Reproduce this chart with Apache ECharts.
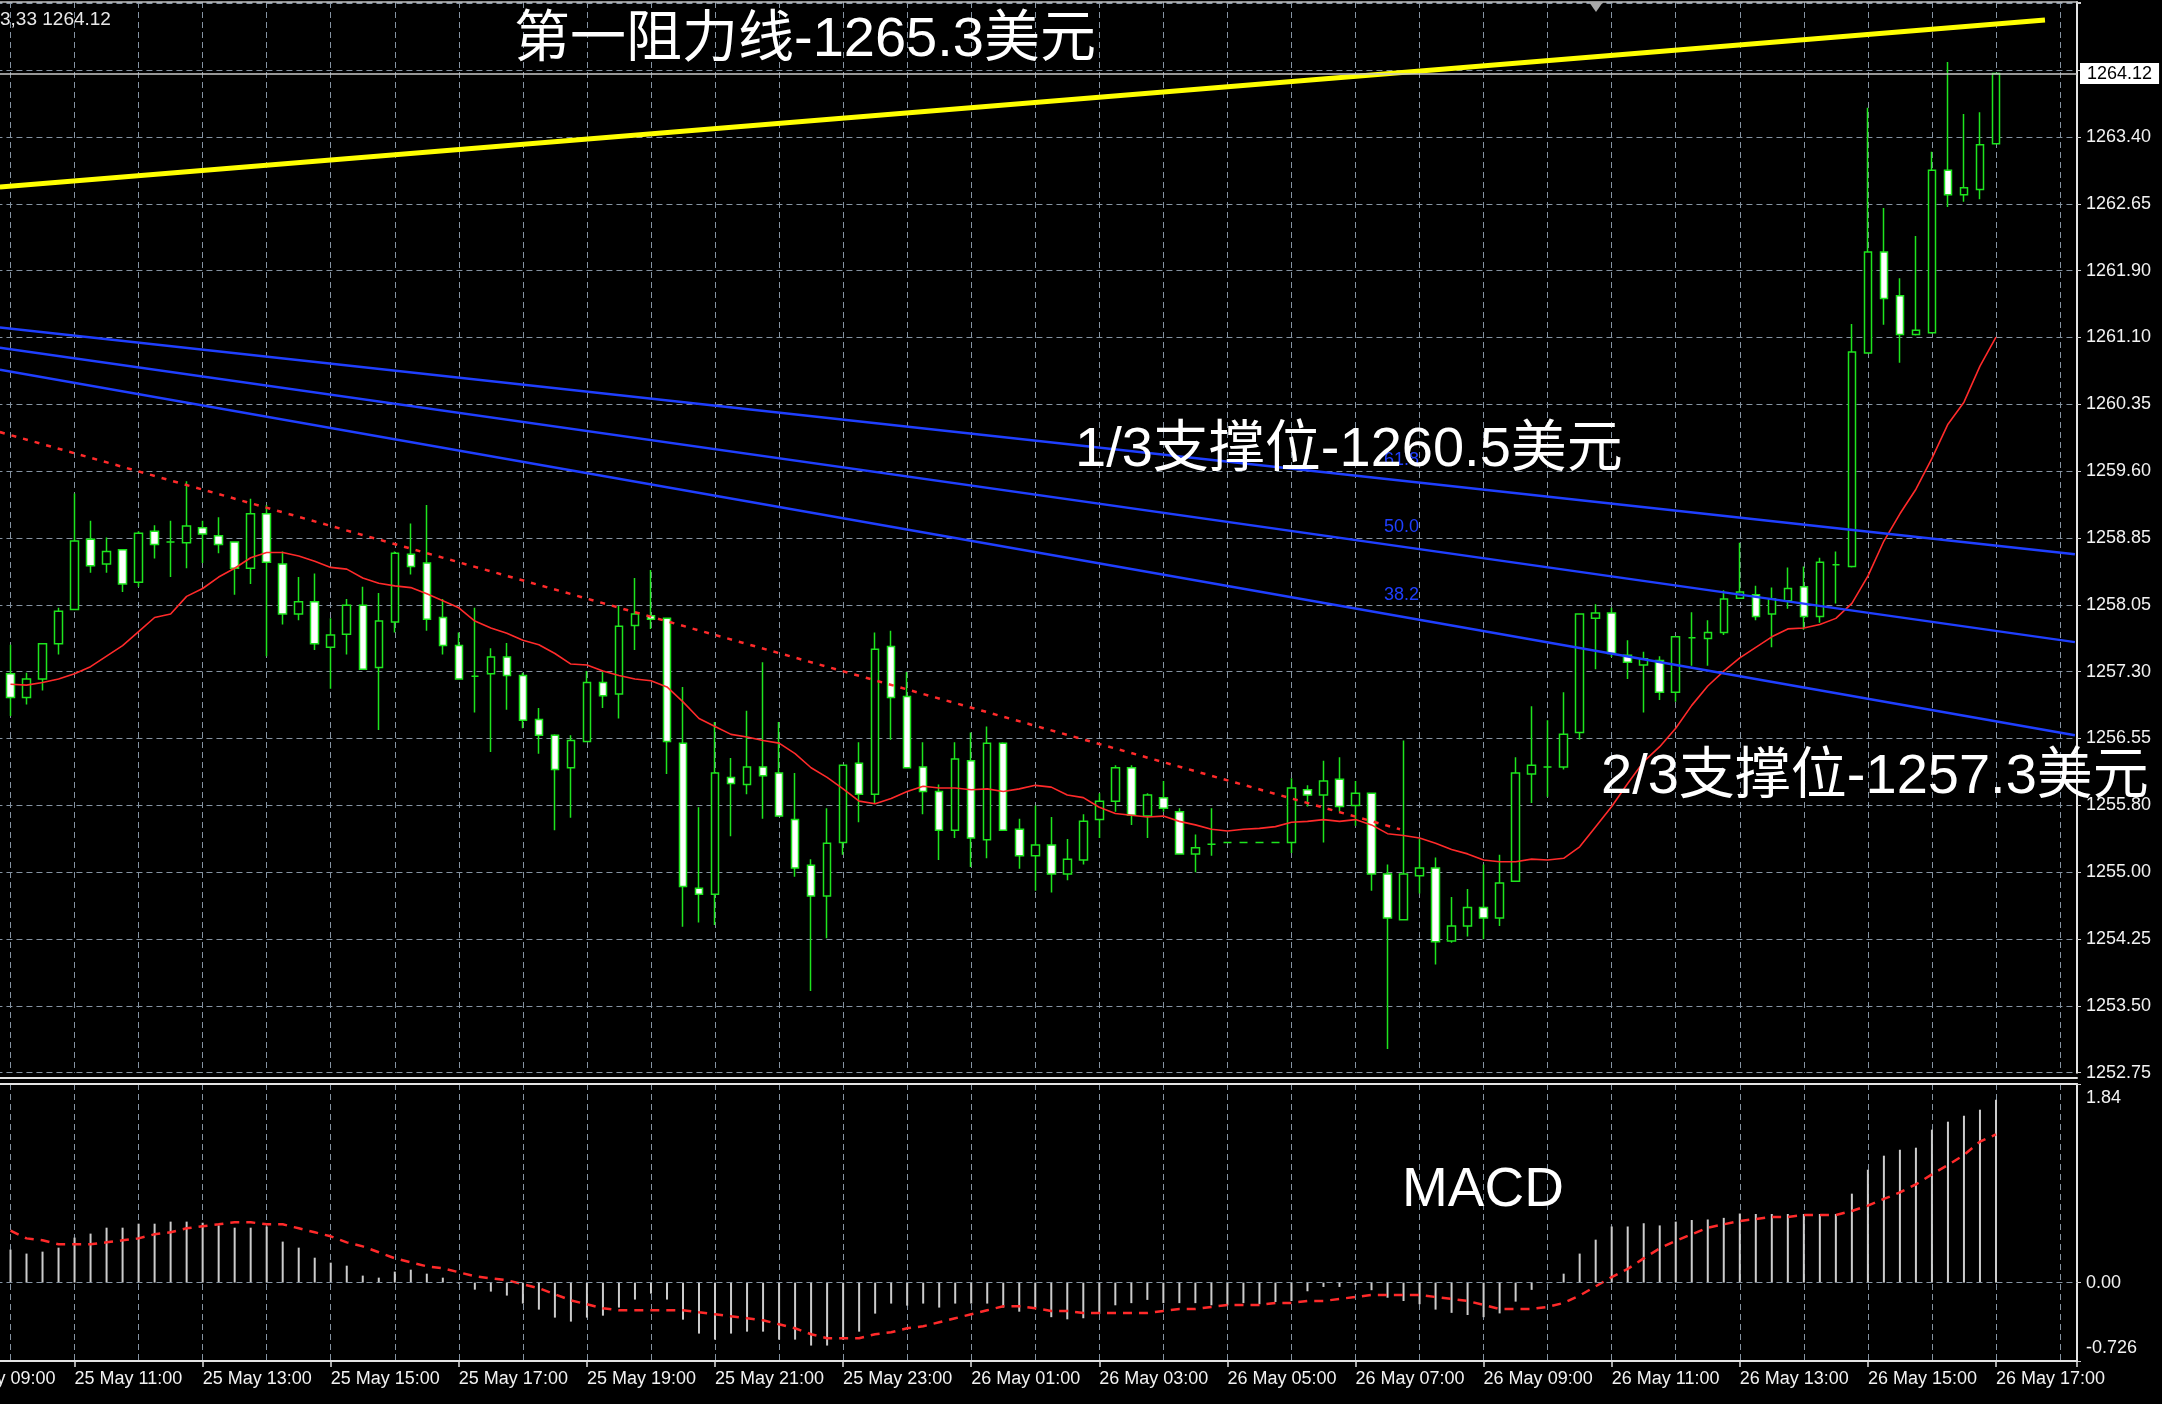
<!DOCTYPE html>
<html>
<head>
<meta charset="utf-8">
<script src="https://cdn.jsdelivr.net/npm/echarts@6/dist/echarts.min.js"></script>
<style>
html,body{margin:0;padding:0;background:#000;}
#chart{width:2162px;height:1404px;}
</style>
</head>
<body>
<div id="chart"></div>
<script>
// ---------- DATA ----------
// 15-minute bars from 25 May 10:00 (index 0) to 26 May 17:00 (index 124)
// time-axis labels every 8 bars, starting at index -4 (25 May 09:00)
const timeLabels = ['25 May 09:00','25 May 11:00','25 May 13:00','25 May 15:00','25 May 17:00','25 May 19:00',
  '25 May 21:00','25 May 23:00','26 May 01:00','26 May 03:00','26 May 05:00','26 May 07:00','26 May 09:00',
  '26 May 11:00','26 May 13:00','26 May 15:00','26 May 17:00'];

const priceTickLabels = ['1252.75','1253.50','1254.25','1255.00','1255.80','1256.55','1257.30','1258.05',
  '1258.85','1259.60','1260.35','1261.10','1261.90','1262.65','1263.40'];

const macdTickValues = [-0.726, 0, 1.84];
const macdTickLabels = ['-0.726', '0.00', '1.84'];

// [open, close, low, high]
const candles = [
[1257.29,1257.02,1256.81,1257.62],[1257.02,1257.23,1256.94,1257.30],[1257.23,1257.63,1257.10,1257.63],
[1257.63,1258.00,1257.51,1258.04],[1258.02,1258.80,1258.02,1259.34],[1258.82,1258.52,1258.44,1259.03],
[1258.54,1258.68,1258.44,1258.84],[1258.70,1258.31,1258.22,1258.70],[1258.33,1258.89,1258.28,1258.91],
[1258.91,1258.76,1258.60,1258.98],[1258.79,1258.79,1258.39,1259.03],[1258.78,1258.97,1258.49,1259.48],
[1258.95,1258.88,1258.55,1259.03],[1258.86,1258.76,1258.66,1259.07],[1258.79,1258.49,1258.19,1258.79],
[1258.49,1259.11,1258.31,1259.28],[1259.11,1258.56,1257.49,1259.21],[1258.54,1257.97,1257.85,1258.68],
[1257.97,1258.11,1257.90,1258.39],[1258.11,1257.63,1257.56,1258.43],[1257.59,1257.73,1257.12,1257.92],
[1257.74,1258.07,1257.51,1258.14],[1258.07,1257.34,1257.34,1258.28],[1257.36,1257.89,1256.65,1258.21],
[1257.88,1258.66,1257.76,1258.68],[1258.65,1258.51,1258.42,1259.00],[1258.55,1257.91,1257.78,1259.21],
[1257.93,1257.61,1257.51,1258.14],[1257.61,1257.23,1257.23,1257.76],[1257.26,1257.26,1256.85,1258.04],
[1257.29,1257.48,1256.40,1257.58],[1257.48,1257.27,1256.88,1257.64],[1257.27,1256.76,1256.67,1257.30],
[1256.77,1256.59,1256.38,1256.90],[1256.59,1256.20,1255.51,1256.60],[1256.22,1256.53,1255.65,1256.59],
[1256.52,1257.19,1256.52,1257.32],[1257.19,1257.04,1256.90,1257.31],[1257.06,1257.83,1256.78,1258.06],
[1257.84,1257.97,1257.56,1258.38],[1257.95,1257.91,1257.80,1258.47],[1257.92,1256.52,1256.15,1257.93],
[1256.50,1254.87,1254.41,1257.14],[1254.85,1254.78,1254.46,1255.77],[1254.78,1256.16,1254.43,1256.74],
[1256.11,1256.04,1255.44,1256.33],[1256.03,1256.23,1255.92,1256.87],[1256.23,1256.13,1255.64,1257.42],
[1256.16,1255.67,1255.67,1256.74],[1255.63,1255.08,1254.98,1256.16],[1255.11,1254.76,1253.68,1255.18],
[1254.76,1255.36,1254.28,1255.76],[1255.37,1256.25,1255.23,1256.25],[1256.27,1255.92,1255.60,1256.51],
[1255.92,1257.57,1255.81,1257.76],[1257.60,1257.02,1256.54,1257.78],[1257.03,1256.22,1256.22,1257.31],
[1256.23,1255.95,1255.69,1256.51],[1255.95,1255.51,1255.17,1256.03],[1255.51,1256.32,1255.42,1256.51],
[1256.30,1255.42,1255.09,1256.62],[1255.40,1256.50,1255.19,1256.69],[1256.50,1255.51,1255.50,1256.51],
[1255.52,1255.22,1255.07,1255.64],[1255.22,1255.34,1254.82,1255.79],[1255.34,1255.01,1254.80,1255.66],
[1255.01,1255.18,1254.94,1255.41],[1255.17,1255.61,1255.12,1255.69],[1255.63,1255.84,1255.42,1255.93],
[1255.84,1256.22,1255.72,1256.25],[1256.22,1255.68,1255.57,1256.25],[1255.67,1255.91,1255.42,1255.93],
[1255.88,1255.76,1255.72,1256.07],[1255.72,1255.24,1255.24,1255.76],[1255.24,1255.31,1255.03,1255.46],
[1255.35,1255.35,1255.22,1255.76],[1255.37,1255.37,1255.37,1255.37],[1255.37,1255.37,1255.37,1255.37],
[1255.37,1255.37,1255.37,1255.37],[1255.37,1255.37,1255.37,1255.37],[1255.37,1255.99,1255.25,1256.10],
[1255.97,1255.91,1255.78,1256.02],[1255.91,1256.07,1255.37,1256.30],[1256.09,1255.78,1255.72,1256.34],
[1255.79,1255.93,1255.56,1256.07],[1255.93,1255.01,1254.82,1255.93],[1255.01,1254.51,1253.02,1255.12],
[1254.49,1255.01,1254.49,1256.53],[1254.99,1255.08,1254.79,1255.41],[1255.08,1254.24,1253.98,1255.20],
[1254.25,1254.42,1254.23,1254.75],[1254.42,1254.63,1254.30,1254.84],[1254.63,1254.51,1254.27,1255.12],
[1254.51,1254.91,1254.42,1255.23],[1254.93,1256.16,1254.93,1256.34],[1256.15,1256.25,1255.82,1256.92],
[1256.23,1256.23,1255.89,1256.76],[1256.23,1256.60,1256.20,1257.08],[1256.62,1257.97,1256.54,1257.97],
[1257.92,1257.98,1257.34,1258.08],[1257.98,1257.52,1257.48,1258.04],[1257.50,1257.42,1257.23,1257.67],
[1257.39,1257.46,1256.85,1257.54],[1257.44,1257.08,1256.99,1257.49],[1257.08,1257.71,1256.97,1257.71],
[1257.70,1257.70,1257.38,1257.99],[1257.69,1257.76,1257.38,1257.90],[1257.76,1258.14,1257.73,1258.24],
[1258.15,1258.22,1258.14,1258.78],[1258.19,1257.94,1257.90,1258.29],[1257.97,1258.14,1257.59,1258.27],
[1258.12,1258.26,1258.03,1258.50],[1258.28,1257.94,1257.79,1258.51],[1257.94,1258.56,1257.87,1258.61],
[1258.53,1258.53,1258.09,1258.68],[1258.51,1260.95,1258.50,1261.27],[1260.94,1262.09,1260.93,1263.73],
[1262.09,1261.56,1261.26,1262.59],[1261.59,1261.15,1260.83,1261.79],[1261.15,1261.20,1261.14,1262.27],
[1261.17,1263.02,1261.16,1263.23],[1263.02,1262.74,1262.60,1264.25],[1262.74,1262.82,1262.66,1263.66],
[1262.80,1263.31,1262.69,1263.68],[1263.32,1264.12,1263.32,1264.12]
];

// moving average (red solid line), one value per bar
const ma = [
1257.17,1257.16,1257.19,1257.23,1257.29,1257.37,1257.49,1257.61,1257.77,1257.93,
1257.97,1258.17,1258.26,1258.39,1258.49,1258.61,1258.67,1258.67,1258.63,1258.57,
1258.50,1258.48,1258.38,1258.32,1258.29,1258.27,1258.20,1258.12,1258.04,1257.89,
1257.81,1257.75,1257.67,1257.62,1257.52,1257.40,1257.39,1257.32,1257.27,1257.23,
1257.21,1257.14,1256.97,1256.78,1256.69,1256.60,1256.57,1256.53,1256.50,1256.38,
1256.22,1256.11,1255.98,1255.84,1255.81,1255.87,1255.95,1256.01,1255.99,1255.99,
1255.97,1255.98,1255.95,1255.98,1256.02,1256.00,1255.91,1255.88,1255.77,1255.70,
1255.68,1255.66,1255.67,1255.61,1255.57,1255.52,1255.50,1255.52,1255.53,1255.55,
1255.60,1255.61,1255.63,1255.61,1255.63,1255.57,1255.47,1255.45,1255.42,1255.36,
1255.29,1255.24,1255.17,1255.15,1255.15,1255.18,1255.17,1255.19,1255.32,1255.55,
1255.78,1256.04,1256.29,1256.46,1256.67,1256.93,1257.15,1257.32,1257.47,1257.59,
1257.71,1257.80,1257.81,1257.85,1257.92,1258.09,1258.40,1258.80,1259.11,1259.39,
1259.74,1260.13,1260.38,1260.79,1261.12
];

// MACD histogram (main) and signal line
const macdHist = [
0.306,0.269,0.287,0.324,0.417,0.454,0.509,0.509,0.546,0.546,
0.565,0.565,0.555,0.530,0.509,0.509,0.520,0.380,0.324,0.231,
0.185,0.157,0.065,0.046,0.102,0.120,0.083,0.046,-0.010,-0.065,
-0.083,-0.120,-0.194,-0.250,-0.324,-0.361,-0.324,-0.306,-0.231,-0.157,
-0.102,-0.157,-0.343,-0.472,-0.528,-0.472,-0.454,-0.454,-0.528,-0.528,
-0.583,-0.583,-0.528,-0.454,-0.287,-0.194,-0.213,-0.194,-0.231,-0.194,
-0.194,-0.194,-0.231,-0.269,-0.231,-0.320,-0.340,-0.330,-0.290,-0.210,
-0.190,-0.160,-0.190,-0.190,-0.190,-0.210,-0.210,-0.190,-0.200,-0.180,
-0.170,-0.080,-0.040,-0.040,-0.020,-0.070,-0.140,-0.170,-0.200,-0.250,
-0.280,-0.300,-0.320,-0.285,-0.176,-0.067,-0.005,0.083,0.269,0.398,
0.520,0.520,0.550,0.530,0.565,0.580,0.585,0.600,0.640,0.636,
0.636,0.636,0.636,0.636,0.636,0.824,1.046,1.176,1.231,1.250,
1.417,1.491,1.546,1.602,1.694
];
const macdSignal = [
0.481,0.410,0.392,0.355,0.355,0.355,0.373,0.392,0.410,0.448,
0.466,0.503,0.522,0.540,0.559,0.559,0.540,0.540,0.503,0.466,
0.429,0.373,0.336,0.281,0.225,0.188,0.151,0.133,0.096,0.059,
0.040,0.022,-0.015,-0.052,-0.108,-0.164,-0.201,-0.238,-0.256,-0.256,
-0.256,-0.256,-0.256,-0.275,-0.293,-0.312,-0.330,-0.349,-0.386,-0.423,
-0.478,-0.515,-0.515,-0.515,-0.478,-0.460,-0.423,-0.404,-0.367,-0.330,
-0.293,-0.256,-0.219,-0.219,-0.238,-0.262,-0.262,-0.281,-0.281,-0.281,
-0.281,-0.281,-0.262,-0.244,-0.244,-0.225,-0.207,-0.207,-0.207,-0.188,
-0.188,-0.170,-0.170,-0.151,-0.133,-0.114,-0.114,-0.114,-0.114,-0.133,
-0.151,-0.170,-0.207,-0.244,-0.244,-0.244,-0.225,-0.188,-0.120,-0.034,
0.052,0.127,0.225,0.318,0.386,0.448,0.509,0.540,0.571,0.590,
0.608,0.608,0.627,0.627,0.627,0.664,0.713,0.775,0.836,0.910,
1.003,1.090,1.182,1.306,1.373
];

// drawn objects: [barIndex, price] end points
const resistanceLine = [[-0.66, 1262.83], [127.06, 1264.73]];
const fanLine618 = [[-0.66, 1261.23], [128.93, 1258.65]];
const fanLine500 = [[-0.66, 1261.00], [128.93, 1257.65]];
const fanLine382 = [[-0.66, 1260.75], [128.93, 1256.59]];
const downTrendLine = [[-0.66, 1260.04], [86.78, 1255.52]];
const lastPrice = 1264.12;
const headerText = '3,33 1264.12';
const annotations = ['第一阻力线-1265.3美元', '1/3支撑位-1260.5美元', '2/3支撑位-1257.3美元', 'MACD'];
const fanLabels = ['61.8', '50.0', '38.2'];

// ---------- STYLE / LAYOUT ----------
const SMALL = "'Liberation Sans',Arial,sans-serif";
const SMALL_SIZE = 18;
const BIG = "'Liberation Sans','Noto Sans CJK SC',sans-serif";
const GRID_COLOR = '#8593a2';
const GREEN = '#1ee41e';
const RED = '#ff2a2a';
const BLUE = '#1f3fff';
const BORDER = '#e4e4e4';
const LABEL = '#f2f2f2';

const X_MIN = -4, X_MAX = 129.06, GRID_LEFT = -53.55, GRID_WIDTH = 2130.55;
const PRICE_MIN = 1252.75, PRICE_STEP = 1252.75 / 1647, PRICE_MAX = 1264.934;

const gridSplit = {show: true, lineStyle: {color: GRID_COLOR, width: 1, type: [6, 4]}};
const noAxis = {axisLine: {show: false}, axisTick: {show: false}, axisLabel: {show: false}, splitLine: {show: false}};

function priceLabel(v) {
  const k = Math.round((v - PRICE_MIN) / PRICE_STEP);
  if (Math.abs(v - (PRICE_MIN + k * PRICE_STEP)) > 0.01) return '';
  return priceTickLabels[k] || '';
}
function timeLabel(v) {
  const k = Math.round(v / 8);
  if (Math.abs(v - 8 * k) > 0.01) return '';
  return timeLabels[k] || '';
}
function macdLabel(v) {
  for (let j = 0; j < macdTickValues.length; j++) {
    if (Math.abs(v - macdTickValues[j]) < 1e-6) {
      const t = macdTickLabels[j];
      if (j === macdTickValues.length - 1) return '{t|' + t + '}';
      if (j === 0) return '{b|' + t + '}';
      return '{m|' + t + '}';
    }
  }
  return '';
}

const chart = echarts.init(document.getElementById('chart'), null, {renderer: 'canvas'});

const richBase = {fontSize: SMALL_SIZE, fontFamily: SMALL, color: LABEL};

const option = {
  backgroundColor: '#000000',
  animation: false,
  grid: [
    {left: GRID_LEFT, top: 2, width: GRID_WIDTH, height: 1070.7, containLabel: false, outerBoundsMode: 'none'},
    {left: GRID_LEFT, top: 1084, width: GRID_WIDTH, height: 277, containLabel: false, outerBoundsMode: 'none'}
  ],
  xAxis: [
    // 0: main pane vertical grid + separator line
    {type: 'value', gridIndex: 0, min: X_MIN, max: X_MAX, interval: 4, position: 'bottom', offset: 5,
     axisLine: {show: true, onZero: false, lineStyle: {color: BORDER, width: 2}},
     axisTick: {show: false}, axisLabel: {show: false}, splitLine: gridSplit},
    // 1: main pane top border
    Object.assign({type: 'value', gridIndex: 0, min: X_MIN, max: X_MAX, position: 'top'}, noAxis,
     {axisLine: {show: true, onZero: false, lineStyle: {color: '#bfbfbf', width: 1.5}}}),
    // 2: MACD vertical grid + bottom line
    {type: 'value', gridIndex: 1, min: X_MIN, max: X_MAX, interval: 4, position: 'bottom',
     axisLine: {show: true, onZero: false, lineStyle: {color: BORDER, width: 2}},
     axisTick: {show: false}, axisLabel: {show: false}, splitLine: gridSplit},
    // 3: time labels (value = bar index + 4)
    {type: 'value', gridIndex: 1, min: X_MIN + 4, max: X_MAX + 4, interval: 8, position: 'bottom',
     axisLine: {show: false, onZero: false},
     axisTick: {show: true, length: 6, lineStyle: {color: '#e0e0e0', width: 1.5}},
     axisLabel: {show: true, formatter: timeLabel, align: 'left', margin: 9, color: LABEL,
                 fontSize: SMALL_SIZE, fontFamily: SMALL, showMinLabel: true, showMaxLabel: true, hideOverlap: false},
     splitLine: {show: false}},
    // 4: MACD top border
    Object.assign({type: 'value', gridIndex: 1, min: X_MIN, max: X_MAX, position: 'top'}, noAxis,
     {axisLine: {show: true, onZero: false, lineStyle: {color: BORDER, width: 2}}})
  ],
  yAxis: [
    {type: 'value', gridIndex: 0, position: 'right', min: PRICE_MIN, max: PRICE_MAX, interval: PRICE_STEP, scale: true,
     axisLine: {show: true, onZero: false, lineStyle: {color: BORDER, width: 2}},
     axisTick: {show: true, length: 4, lineStyle: {color: '#d0d0d0'}},
     axisLabel: {show: true, formatter: priceLabel, margin: 9, color: LABEL, fontSize: SMALL_SIZE, fontFamily: SMALL},
     splitLine: gridSplit},
    {type: 'value', gridIndex: 1, position: 'right', min: -0.726, max: 1.84, scale: true,
     axisLine: {show: true, onZero: false, lineStyle: {color: BORDER, width: 2}},
     axisTick: {show: true, length: 4, customValues: macdTickValues, lineStyle: {color: '#d0d0d0'}},
     axisLabel: {show: true, customValues: macdTickValues, formatter: macdLabel, margin: 9, color: LABEL,
                 fontSize: SMALL_SIZE, fontFamily: SMALL,
                 rich: {t: Object.assign({padding: [28, 0, 0, 0]}, richBase),
                        b: Object.assign({padding: [0, 0, 26, 0]}, richBase),
                        m: Object.assign({}, richBase)}},
     splitLine: {show: false}}
  ],
  series: [
    {type: 'candlestick', name: 'price', xAxisIndex: 0, yAxisIndex: 0, z: 3,
     data: candles.map((c, i) => [i, c[0], c[1], c[2], c[3]]),
     encode: {x: 0, y: [1, 2, 3, 4]},
     barWidth: 8,
     itemStyle: {color: '#000000', color0: '#ffffff', borderColor: GREEN, borderColor0: GREEN, borderWidth: 1.5},
     markLine: {silent: true, symbol: ['none', 'none'], animation: false,
       lineStyle: {color: '#c8c8c8', type: 'solid', width: 1.5},
       label: {show: true, position: 'end', distance: 3, formatter: lastPrice.toFixed(2),
               backgroundColor: '#ffffff', color: '#000000', padding: [1, 7, 1, 7], lineHeight: 19,
               fontSize: SMALL_SIZE, fontFamily: SMALL},
       data: [{yAxis: lastPrice}]}},
    {type: 'line', name: 'MA', xAxisIndex: 0, yAxisIndex: 0, z: 4, symbol: 'none',
     data: ma.map((v, i) => [i, v]), lineStyle: {color: RED, width: 1.6}},
    {type: 'line', name: 'trend', xAxisIndex: 0, yAxisIndex: 0, z: 4, symbol: 'none',
     data: downTrendLine, lineStyle: {color: RED, width: 2.5, type: [5, 7]}},
    {type: 'line', name: 'fan 61.8', xAxisIndex: 0, yAxisIndex: 0, z: 4, symbol: 'none',
     data: fanLine618, lineStyle: {color: BLUE, width: 2.4}},
    {type: 'line', name: 'fan 50.0', xAxisIndex: 0, yAxisIndex: 0, z: 4, symbol: 'none',
     data: fanLine500, lineStyle: {color: BLUE, width: 2.4}},
    {type: 'line', name: 'fan 38.2', xAxisIndex: 0, yAxisIndex: 0, z: 4, symbol: 'none',
     data: fanLine382, lineStyle: {color: BLUE, width: 2.4}},
    {type: 'line', name: 'resistance', xAxisIndex: 0, yAxisIndex: 0, z: 4, symbol: 'none',
     data: resistanceLine, lineStyle: {color: '#ffff00', width: 5}},
    {type: 'bar', name: 'MACD', xAxisIndex: 2, yAxisIndex: 1, z: 3, barWidth: 2,
     data: macdHist.map((v, i) => [i, v]), itemStyle: {color: '#cccccc'},
     markLine: {silent: true, symbol: ['none', 'none'], animation: false, label: {show: false},
       lineStyle: {color: GRID_COLOR, type: [6, 4], width: 1}, data: [{yAxis: 0}]}},
    {type: 'line', name: 'Signal', xAxisIndex: 2, yAxisIndex: 1, z: 4, symbol: 'none',
     data: macdSignal.map((v, i) => [i, v]), lineStyle: {color: RED, width: 2.5, type: [9, 7]}}
  ],
  graphic: [
    {type: 'text', z: 100, x: 514, y: 41, style: {text: annotations[0], fill: '#ffffff', font: '56px ' + BIG, align: 'left', verticalAlign: 'middle'}},
    {type: 'text', z: 100, x: 1075, y: 451, style: {text: annotations[1], fill: '#ffffff', font: '56px ' + BIG, align: 'left', verticalAlign: 'middle'}},
    {type: 'text', z: 100, x: 1601, y: 778, style: {text: annotations[2], fill: '#ffffff', font: '56px ' + BIG, align: 'left', verticalAlign: 'middle'}},
    {type: 'text', z: 100, x: 1402, y: 1191, style: {text: annotations[3], fill: '#ffffff', font: '55px ' + BIG, align: 'left', verticalAlign: 'middle'}},
    {type: 'text', z: 90, x: 1384, y: 460, style: {text: fanLabels[0], fill: BLUE, font: SMALL_SIZE + 'px ' + SMALL, align: 'left', verticalAlign: 'middle'}},
    {type: 'text', z: 90, x: 1384, y: 527, style: {text: fanLabels[1], fill: BLUE, font: SMALL_SIZE + 'px ' + SMALL, align: 'left', verticalAlign: 'middle'}},
    {type: 'text', z: 90, x: 1384, y: 595, style: {text: fanLabels[2], fill: BLUE, font: SMALL_SIZE + 'px ' + SMALL, align: 'left', verticalAlign: 'middle'}},
    {type: 'text', z: 90, x: 0, y: 20, style: {text: headerText, fill: '#e8e8e8', font: '19px ' + SMALL, align: 'left', verticalAlign: 'middle'}},
    {type: 'polygon', z: 90, shape: {points: [[1589, 2], [1603, 2], [1596, 12]]}, style: {fill: '#a8a8a8'}}
  ]
};

chart.setOption(option);
</script>
</body>
</html>
